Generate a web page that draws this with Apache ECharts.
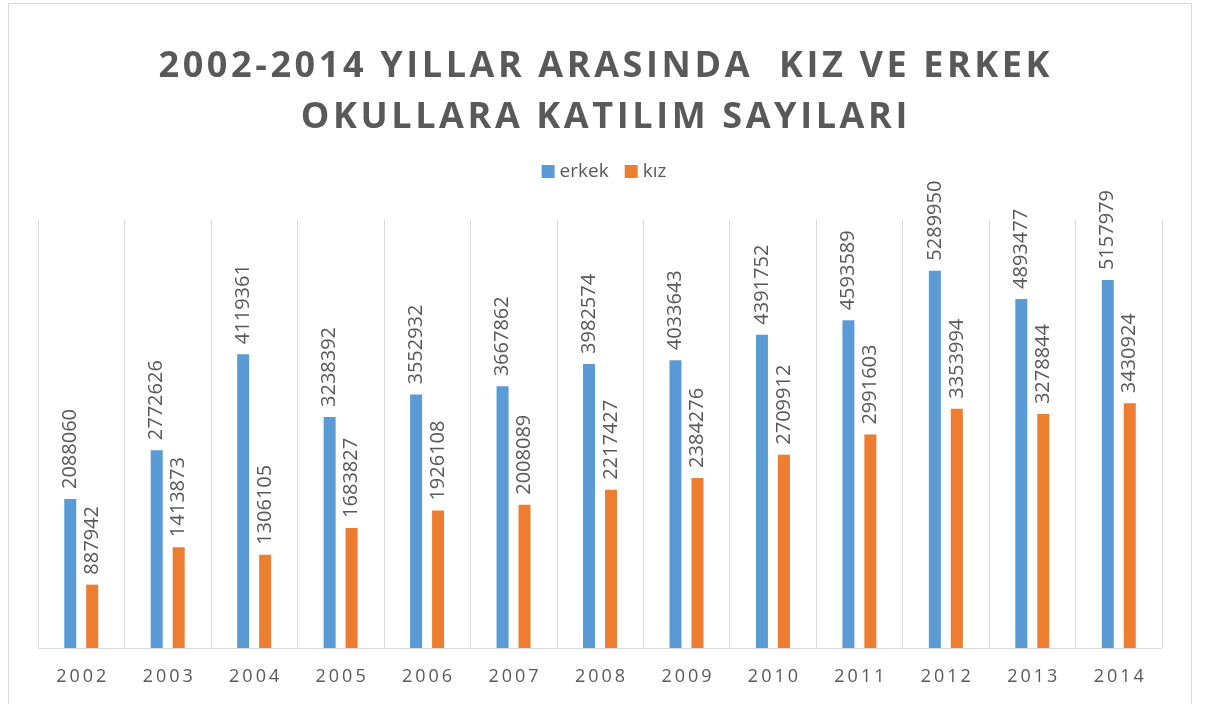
<!DOCTYPE html>
<html><head><meta charset="utf-8">
<script src="https://cdn.jsdelivr.net/npm/echarts@6/dist/echarts.min.js"></script>
<style>html,body{margin:0;padding:0;background:#fff}#c{width:1208px;height:704px}</style>
</head><body><div id="c"></div>
<script>
const years = ['2002','2003','2004','2005','2006','2007','2008','2009','2010','2011','2012','2013','2014'];
const erkek = [2088060,2772626,4119361,3238392,3552932,3667862,3982574,4033643,4391752,4593589,5289950,4893477,5157979];
const kiz = [887942,1413873,1306105,1683827,1926108,2008089,2217427,2384276,2709912,2991603,3353994,3278844,3430924];
const titleLines = ['2002-2014 YILLAR ARASINDA  KIZ VE ERKEK','OKULLARA KATILIM SAYILARI'];
const seriesNames = ['erkek','kız'];

const chart = echarts.init(document.getElementById('c'));
const spaced = (s, sp) => s.split('').join(sp);
const lbl = {show:true, position:'top', rotate:90, align:'left', verticalAlign:'middle', distance:10,
  color:'#595959', fontSize:20, fontFamily:'Open Sans'};
const tStyle = {fontFamily:'Open Sans', fontWeight:'bold', fontSize:36, color:'#595959'};
chart.setOption({
  animation:false,
  graphic:[{type:'rect', shape:{x:8.5,y:3.5,width:1183,height:720}, style:{fill:'none',stroke:'#d9d9d9',lineWidth:1}}],
  title:[
    {text:spaced(titleLines[0],'\u200a'), left:'center', top:44, textStyle:tStyle},
    {text:spaced(titleLines[1],'\u200a'), left:'center', top:95, textStyle:tStyle}
  ],
  legend:{top:157, left:'center', itemWidth:13, itemHeight:13, itemGap:16, icon:'rect',
    textStyle:{fontFamily:'Open Sans', fontSize:19, color:'#595959'}, data:seriesNames},
  grid:{left:38, right:46, top:220, bottom:56, containLabel:false},
  xAxis:{type:'category', data:years, axisTick:{show:false},
    axisLine:{lineStyle:{color:'#d9d9d9'}},
    splitLine:{show:true, lineStyle:{color:'#d9d9d9'}},
    axisLabel:{color:'#595959', fontSize:18, fontFamily:'Open Sans', margin:20, formatter:v=>spaced(v,'\u2009')}},
  yAxis:{type:'value', min:0, max:6000000, interval:1000000, show:false, splitLine:{show:false}},
  series:[
    {name:seriesNames[0], type:'bar', data:erkek, barWidth:12, barGap:'83%', itemStyle:{color:'#5b9bd5'}, label:lbl},
    {name:seriesNames[1], type:'bar', data:kiz, barWidth:12, itemStyle:{color:'#ed7d31'}, label:lbl}
  ]
});
</script></body></html>
